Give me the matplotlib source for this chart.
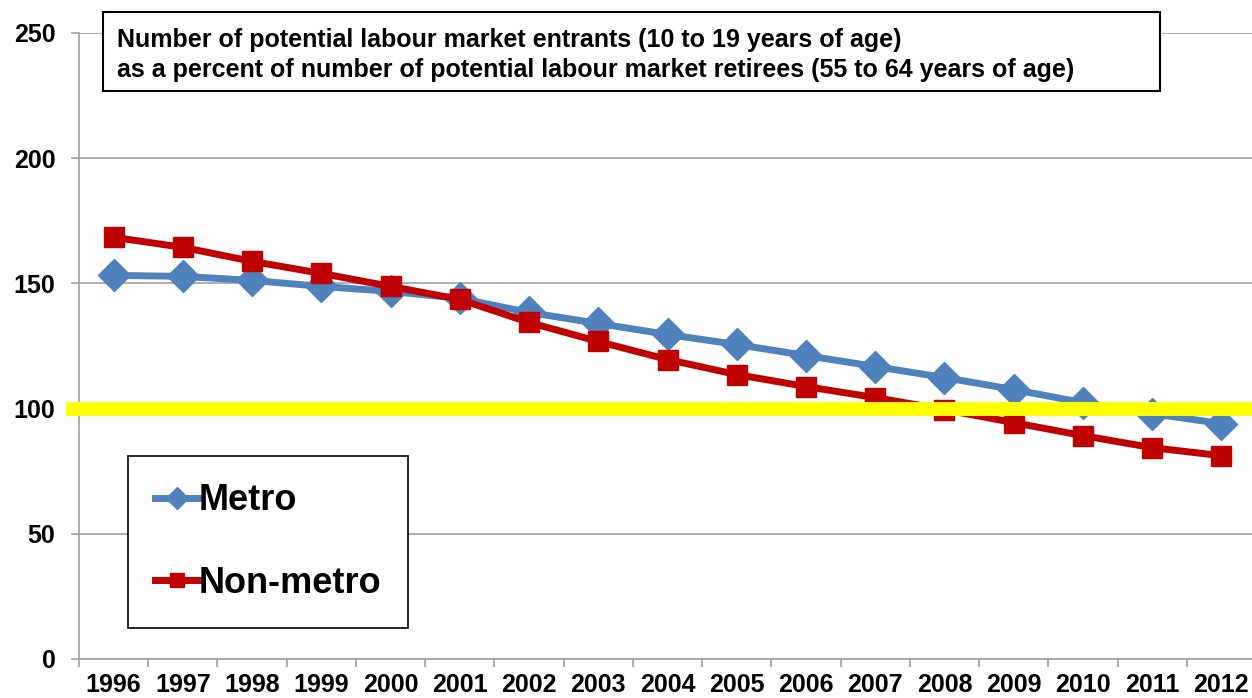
import matplotlib.pyplot as plt
import matplotlib.patches as patches
import numpy as np

plt.rcParams['font.family'] = ['Liberation Sans', 'DejaVu Sans']

# data
years = ["1996", "1997", "1998", "1999", "2000", "2001", "2002", "2003", "2004",
         "2005", "2006", "2007", "2008", "2009", "2010", "2011", "2012"]
metro = [153.2, 152.8, 151.2, 148.8, 146.8, 144.0, 138.4, 134.0, 129.6,
         125.6, 121.2, 116.8, 112.4, 107.6, 102.4, 98.0, 94.0]
non_metro = [168.4, 164.4, 158.8, 154.0, 148.8, 143.6, 134.4, 126.8, 119.6,
             113.6, 108.8, 104.4, 99.6, 94.4, 89.2, 84.4, 81.2]
threshold = 100
title_lines = ["Number of potential labour market entrants (10 to 19 years of age)",
               "as a percent of number of potential labour market retirees (55 to 64 years of age)"]

W, H = 1252, 698
fig = plt.figure(figsize=(W / 100, H / 100), dpi=100)
ax = fig.add_axes([79 / W, 1 - 659 / H, 1177 / W, 626 / H])

x = np.arange(len(years))
ax.plot(x, metro, color="#4F81BD", lw=5, marker="D", ms=16, label="Metro", zorder=3)
ax.plot(x, non_metro, color="#C00000", lw=5, marker="s", ms=15, label="Non-metro", zorder=3)

# yellow reference line at 100
ax.axhline(threshold, xmin=-13 / 1177, xmax=1, color="#FFFF00", lw=10, zorder=4,
           clip_on=False, solid_capstyle="butt")

ax.set_xlim(-0.5, len(years) - 0.5)
ax.set_ylim(0, 250)
ax.set_yticks(range(0, 251, 50))
ax.set_xticks(x)
ax.set_xticklabels(years)
ax.set_xticks(np.arange(-0.5, len(years), 1), minor=True)
ax.tick_params(axis="x", which="major", length=0, pad=10, labelsize=18)
ax.tick_params(axis="x", which="minor", length=5.5, color="#A0A0A0", width=1.2)
ax.tick_params(axis="y", length=6, color="#A0A0A0", width=1.2, labelsize=18, pad=11)
for lab in ax.get_xticklabels() + ax.get_yticklabels():
    lab.set_fontweight("bold")

ax.grid(axis="y", color="#A0A0A0", lw=1.2, zorder=0)
ax.set_axisbelow(True)
for s in ["top", "right"]:
    ax.spines[s].set_visible(False)
for s in ["left", "bottom"]:
    ax.spines[s].set_color("#A0A0A0")
    ax.spines[s].set_linewidth(1.2)

# title box
fig.patches.append(patches.Rectangle((103 / W, 1 - 91 / H), 1057 / W, 79 / H,
                                     transform=fig.transFigure, fc="white", ec="black",
                                     lw=1.5, zorder=5))
fig.text(117 / W, 1 - 40 / H, title_lines[0], fontsize=18, fontweight="bold",
         va="center", ha="left", zorder=6)
fig.text(117 / W, 1 - 70 / H, title_lines[1], fontsize=18, fontweight="bold",
         va="center", ha="left", zorder=6)

leg = ax.legend(loc="lower left", bbox_to_anchor=((128 - 79) / 1177, (659 - 628) / 626),
                prop=dict(size=26, weight="bold"), handlelength=1.2, handletextpad=0.0,
                labelspacing=1.32, borderpad=0.75, borderaxespad=0, fancybox=False,
                edgecolor="black", framealpha=1, markerscale=0.7)
leg.get_frame().set_linewidth(1.2)
leg.set_zorder(5)

plt.savefig("out.png")
plt.close(fig)
